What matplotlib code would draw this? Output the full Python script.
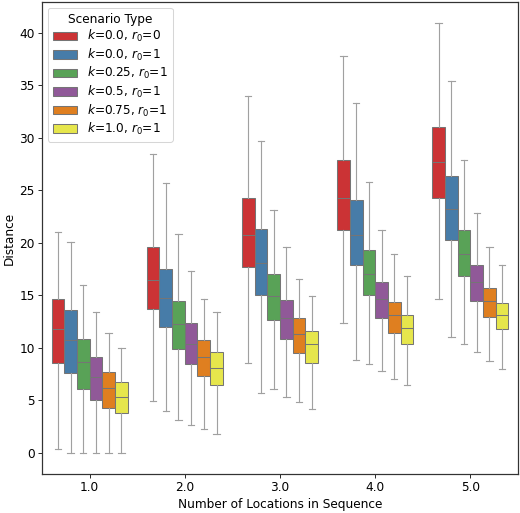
import numpy as np
import matplotlib
matplotlib.use("Agg")
import matplotlib.pyplot as plt
import matplotlib.patches as mpatches
import seaborn as sns

# values (whisker low, q1, median, q3, whisker high)
groups = ["1.0", "2.0", "3.0", "4.0", "5.0"]
scenarios = [r"$k$=0.0, $r_0$=0", r"$k$=0.0, $r_0$=1", r"$k$=0.25, $r_0$=1",
             r"$k$=0.5, $r_0$=1", r"$k$=0.75, $r_0$=1", r"$k$=1.0, $r_0$=1"]

whislo = [[0.34, 4.89, 8.58, 12.36, 14.61],
          [0.0, 4.0, 5.65, 8.8, 11.02],
          [0.0, 3.14, 6.07, 8.48, 10.32],
          [0.0, 2.64, 5.34, 7.78, 9.59],
          [0.0, 2.22, 4.8, 7.05, 8.77],
          [0.0, 1.74, 4.16, 6.48, 8.0]]
q1 = [[8.58, 13.73, 17.7, 21.22, 24.27],
      [7.59, 11.92, 15.06, 17.83, 20.27],
      [6.07, 9.85, 12.63, 14.97, 16.8],
      [5.02, 8.45, 10.83, 12.83, 14.49],
      [4.29, 7.3, 9.53, 11.44, 12.93],
      [3.75, 6.48, 8.58, 10.39, 11.75]]
med = [[11.8, 16.46, 20.78, 24.3, 27.7],
       [10.77, 14.74, 18.08, 20.69, 23.22],
       [8.64, 12.26, 14.93, 17.06, 18.97],
       [7.18, 10.39, 12.83, 14.68, 16.3],
       [6.13, 9.12, 11.34, 13.15, 14.42],
       [5.34, 8.1, 10.3, 11.85, 13.15]]
q3 = [[14.6, 19.57, 24.24, 27.93, 31.01],
      [13.6, 17.5, 21.29, 24.08, 26.4],
      [10.87, 14.42, 17.06, 19.29, 21.26],
      [9.06, 12.33, 14.52, 16.26, 17.83],
      [7.72, 10.74, 12.83, 14.39, 15.73],
      [6.77, 9.63, 11.56, 13.12, 14.3]]
whishi = [[21.0, 28.44, 34.03, 37.78, 40.9],
          [20.05, 25.67, 29.7, 33.33, 35.43],
          [16.0, 20.87, 23.16, 25.77, 27.9],
          [13.35, 17.3, 19.6, 21.26, 22.88],
          [11.44, 14.64, 16.55, 18.9, 19.6],
          [9.97, 13.4, 14.9, 16.8, 17.92]]

colors = sns.color_palette("Set1", 6, desat=0.75)
edge = "#757575"

plt.rcParams["font.size"] = 11.8
dpi = 74
fig, ax = plt.subplots(figsize=(520 / dpi, 513 / dpi), dpi=dpi)
fig.subplots_adjust(left=42 / 520, right=518 / 520, top=1 - 2 / 513, bottom=1 - 474 / 513)

n = len(scenarios)
w = 0.8 / n
for j in range(n):
    stats = []
    for i in range(len(groups)):
        stats.append(dict(whislo=whislo[j][i], q1=q1[j][i], med=med[j][i],
                          q3=q3[j][i], whishi=whishi[j][i], fliers=[]))
    pos = np.arange(len(groups)) - 0.4 + w * (j + 0.5)
    ax.bxp(stats, positions=pos, widths=w, patch_artist=True, showfliers=False,
           manage_ticks=False,
           boxprops=dict(facecolor=colors[j], edgecolor=edge, linewidth=1.0),
           medianprops=dict(color=edge, linewidth=1.0),
           whiskerprops=dict(color="#a0a0a0", linewidth=1.1),
           capprops=dict(color="#a0a0a0", linewidth=1.1),
           capwidths=w * 0.5)

ax.set_xticks(range(len(groups)))
ax.set_xticklabels(groups)
ax.set_xlim(-0.5, len(groups) - 0.5)
ax.set_yticks([0, 5, 10, 15, 20, 25, 30, 35, 40])
ax.set_xlabel("Number of Locations in Sequence")
ax.set_ylabel("Distance")
for s in ax.spines.values():
    s.set_linewidth(1.2)
    s.set_color("#333333")

handles = [mpatches.Patch(facecolor=colors[j], edgecolor=edge, label=scenarios[j])
           for j in range(n)]
ax.legend(handles=handles, title="Scenario Type", loc="upper left", labelspacing=0.2)

fig.savefig("out.png", dpi=dpi)
